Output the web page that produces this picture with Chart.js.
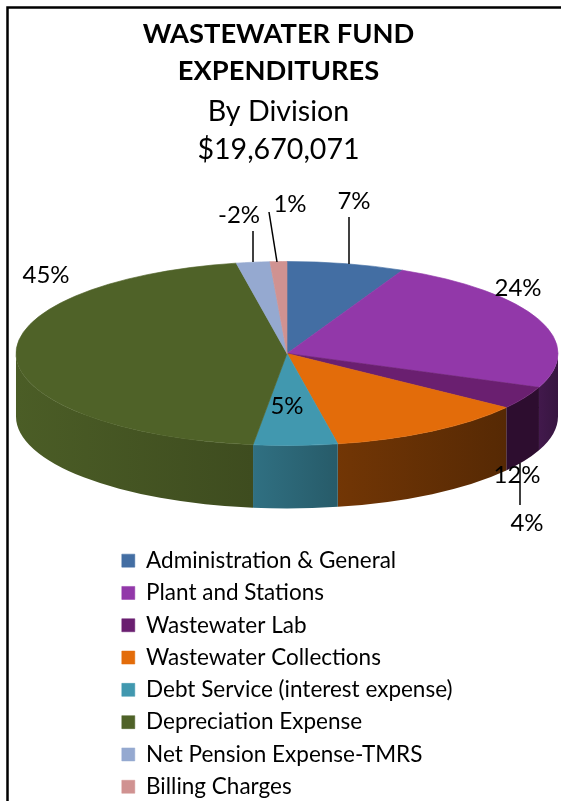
<!DOCTYPE html>
<html>
<head>
<meta charset="utf-8">
<script src="https://cdn.jsdelivr.net/npm/chart.js@4"></script>
<style>
  html, body { margin: 0; padding: 0; background: #fff; }
  canvas { display: block; }
</style>
</head>
<body>
<canvas id="chart" width="561" height="801"></canvas>
<script>
// Expenditure shares by division, in percent
const divisions = [
  'Administration & General',
  'Plant and Stations',
  'Wastewater Lab',
  'Wastewater Collections',
  'Debt Service (interest expense)',
  'Depreciation Expense',
  'Net Pension Expense-TMRS',
  'Billing Charges'
];
const sharePercent = [7, 24, 4, 12, 5, 45, -2, 1];
const titleLines = ['WASTEWATER FUND', 'EXPENDITURES'];
const subtitleLines = ['By Division', '$19,670,071'];

// Slice fills
const sliceColors = ['#436ea3', '#9238a9', '#6a1f70', '#e36c0a', '#4198af', '#4f6228', '#95a9d0', '#d09291'];
// Rim shading per slice: brightness factor at the left and right end of its visible wall
const rimShades = [
  [0.7, 0.7], [0.45, 0.38], [0.42, 0.42], [0.5, 0.38],
  [0.74, 0.6], [0.95, 0.78], [0.7, 0.7], [0.7, 0.7]
];

// Text anchor per slice label, with an optional leader line
const labelPlacements = [
  { x: 354, y: 201, leader: [349, 217, 349, 264] },
  { x: 518, y: 288 },
  { x: 527, y: 523, leader: [520, 463, 520, 505] },
  { x: 517, y: 475 },
  { x: 287, y: 406 },
  { x: 46, y: 275 },
  { x: 239, y: 215, leader: [253, 231, 253, 262] },
  { x: 290, y: 204, leader: [269, 212, 277, 262] }
];

const FONT = 'Lato, Carlito, sans-serif';

function shade(hex, f) {
  const n = parseInt(hex.slice(1), 16);
  const c = [(n >> 16) & 255, (n >> 8) & 255, n & 255].map(v => Math.round(v * f));
  return `rgb(${c[0]},${c[1]},${c[2]})`;
}

// Renders the doughnut controller's arcs as a tilted disc with a rim
const tiltedDisc = {
  id: 'tiltedDisc',
  // The longest legend entry runs past the padded area; widen the legend's box,
  // short of the point where two entries would share a row
  afterLayout(chart) {
    chart.legend.right = chart.legend.left + 375;
  },
  beforeDraw(chart) {
    const { ctx } = chart;
    ctx.save();
    ctx.strokeStyle = '#000';
    ctx.lineWidth = 2.5;
    ctx.beginPath();
    ctx.moveTo(7.5, 801);
    ctx.lineTo(7.5, 7.5);
    ctx.lineTo(561, 7.5);
    ctx.stroke();
    ctx.restore();
  },
  beforeDatasetsDraw(chart, args, opts) {
    const { ctx } = chart;
    const { cx, cy, rx, ry, depth } = opts;
    const arcs = chart.getDatasetMeta(0).data;
    arcs.forEach((arc, i) => {
      const a1 = Math.max(arc.startAngle, 0);
      const a2 = Math.min(arc.endAngle, Math.PI);
      if (a2 <= a1) return;
      const xStart = cx + rx * Math.cos(a1);
      const xEnd = cx + rx * Math.cos(a2);
      const g = ctx.createLinearGradient(xEnd, 0, xStart, 0);
      g.addColorStop(0, shade(sliceColors[i], rimShades[i][0]));
      g.addColorStop(1, shade(sliceColors[i], rimShades[i][1]));
      ctx.beginPath();
      ctx.ellipse(cx, cy, rx, ry, 0, a1, a2);
      ctx.ellipse(cx, cy + depth, rx, ry, 0, a2, a1, true);
      ctx.closePath();
      ctx.fillStyle = g;
      ctx.fill();
    });
    const first = arcs[0];
    const k = first.outerRadius;
    ctx.save();
    ctx.translate(cx, cy);
    ctx.scale(rx / k, ry / k);
    ctx.translate(-first.x, -first.y);
  },
  afterDatasetsDraw(chart) {
    const { ctx } = chart;
    ctx.restore();
    ctx.save();
    ctx.strokeStyle = '#000';
    ctx.lineWidth = 1.5;
    ctx.fillStyle = '#000';
    ctx.font = `24px ${FONT}`;
    ctx.textAlign = 'center';
    ctx.textBaseline = 'middle';
    sharePercent.forEach((v, i) => {
      const p = labelPlacements[i];
      if (p.leader) {
        ctx.beginPath();
        ctx.moveTo(p.leader[0], p.leader[1]);
        ctx.lineTo(p.leader[2], p.leader[3]);
        ctx.stroke();
      }
      ctx.fillText(`${v}%`, p.x, p.y);
    });
    ctx.restore();
  }
};

new Chart(document.getElementById('chart'), {
  type: 'pie',
  plugins: [tiltedDisc],
  data: {
    labels: divisions,
    datasets: [{
      data: sharePercent,
      backgroundColor: sliceColors,
      borderColor: sliceColors,
      borderWidth: 0.5,
      clip: false
    }]
  },
  options: {
    responsive: false,
    animation: false,
    layout: { padding: { left: 112, right: 116, top: 0, bottom: -7 } },
    plugins: {
      tiltedDisc: { cx: 287, cy: 353.5, rx: 271, ry: 92, depth: 63 },
      tooltip: { enabled: false },
      title: {
        display: true,
        text: titleLines,
        color: '#000',
        font: { family: FONT, size: 27.3, weight: 'bold', lineHeight: 1.36 },
        padding: { top: 16, bottom: 0 }
      },
      subtitle: {
        display: true,
        text: subtitleLines,
        color: '#000',
        font: { family: FONT, size: 28.6, weight: 'normal', lineHeight: 1.33 },
        padding: { top: 2, bottom: 90 }
      },
      legend: {
        position: 'bottom',
        align: 'start',
        labels: {
          color: '#000',
          font: { family: FONT, size: 22.5 },
          boxWidth: 13,
          boxHeight: 13,
          padding: 9.8
        }
      }
    }
  }
});
</script>
</body>
</html>
